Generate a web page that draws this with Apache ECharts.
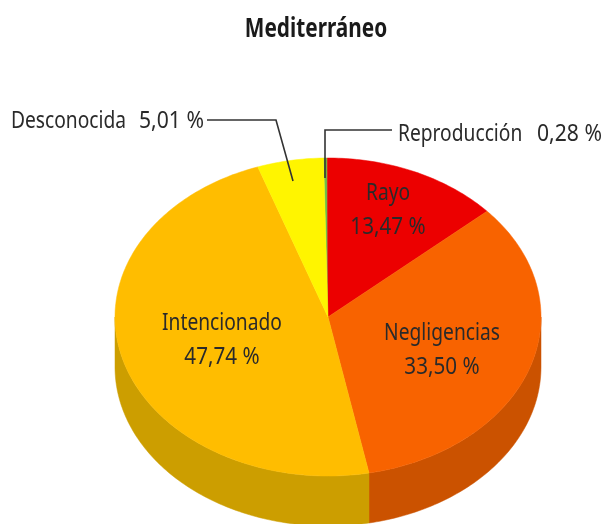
<!DOCTYPE html>
<html><head><meta charset="utf-8">
<style>html,body{margin:0;padding:0;background:#fff}#c{width:604px;height:524px}</style>
<script src="https://cdn.jsdelivr.net/npm/echarts@6/dist/echarts.min.js"></script>
</head><body><div id="c"></div>
<script>
const titleText = 'Mediterráneo';
const categories = ['Reproducción','Rayo','Negligencias','Intencionado','Desconocida'];
const values = [0.28,13.47,33.50,47.74,5.01];
const topColors = ['#6cbf4b','#ec0000','#f86300','#ffbd00','#fff500'];
const sideColors = ['#4f8f35','#b00000','#cb5200','#cc9e00','#ccc400'];

const CX=328, CY=317, RX=213, RY=159, DEPTH=50, START=-1.2;
const FONT='"Noto Sans",sans-serif';
const TEXT='#2a2a2a';
const total=values.reduce((a,b)=>a+b,0);
const bounds=[START]; values.forEach(v=>bounds.push(bounds[bounds.length-1]+v/total*360));
const pt=(d,dy=0)=>[CX+RX*Math.sin(d*Math.PI/180), CY-RY*Math.cos(d*Math.PI/180)+dy];
function arc(a,b,dy){const n=Math.max(2,Math.ceil(Math.abs(b-a)));const r=[];for(let k=0;k<=n;k++)r.push(pt(a+(b-a)*k/n,dy));return r;}

function topItem(p,api){
  const i=api.value(0);
  return {type:'polygon',shape:{points:[[CX,CY],...arc(bounds[i],bounds[i+1],0)]},
    style:{fill:topColors[i],stroke:topColors[i],lineWidth:0.5}};
}
function sideItem(p,api){
  const i=api.value(0), a=Math.max(bounds[i],90), b=Math.min(bounds[i+1],270);
  if(b<=a) return null;
  return {type:'polygon',shape:{points:[...arc(a,b,0),...arc(b,a,DEPTH)]},
    style:{fill:sideColors[i],stroke:sideColors[i],lineWidth:0.5}};
}
const labels=[
  {t:'Reproducción',  x:398,y:134,a:'left',s:0.8},
  {t:'0,28 %',        x:537,y:134,a:'left',s:0.88},
  {t:'Rayo',          x:388,y:193,a:'center',s:0.8},
  {t:'13,47 %',       x:388,y:227,a:'center',s:0.86},
  {t:'Negligencias',  x:442,y:333,a:'center',s:0.8},
  {t:'33,50 %',       x:442,y:367,a:'center',s:0.86},
  {t:'Intencionado',  x:222,y:323,a:'center',s:0.8},
  {t:'47,74 %',       x:222,y:357,a:'center',s:0.86},
  {t:'Desconocida',   x:11, y:121,a:'left',s:0.8},
  {t:'5,01 %',        x:139,y:121,a:'left',s:0.88},
  {t:titleText,       x:316,y:30, a:'center',s:0.8,b:1}
];
const leaders=[
  [[207,120],[276,120],[293,181]],
  [[392,130],[325,130],[325,178]]
];
const chart=echarts.init(document.getElementById('c'),null,{renderer:'canvas'});
const idx=categories.map((c,i)=>[i,values[i],c]);
chart.setOption({
  animation:false,
  backgroundColor:'#fff',
  series:[
    {type:'custom',coordinateSystem:'none',silent:true,data:idx,renderItem:sideItem,z:1},
    {type:'custom',coordinateSystem:'none',silent:true,data:idx,renderItem:topItem,z:2},
    {type:'custom',coordinateSystem:'none',silent:true,data:leaders.map((l,i)=>[i]),z:3,
      renderItem:(p,api)=>({type:'polyline',shape:{points:leaders[api.value(0)]},style:{fill:null,stroke:'#333',lineWidth:1.6}})},
    {type:'custom',coordinateSystem:'none',silent:true,data:labels.map((l,i)=>[i]),z:4,
      renderItem:(p,api)=>{const l=labels[api.value(0)];
        return {type:'text',x:l.x,y:l.y,scaleX:l.s,scaleY:1,style:{text:l.t,fontFamily:FONT,fontSize:l.b?26:24,fontWeight:l.b?'bold':'normal',fill:l.b?'#1a1a1a':TEXT,align:l.a,verticalAlign:'middle'}};}}
  ]
});
</script></body></html>
